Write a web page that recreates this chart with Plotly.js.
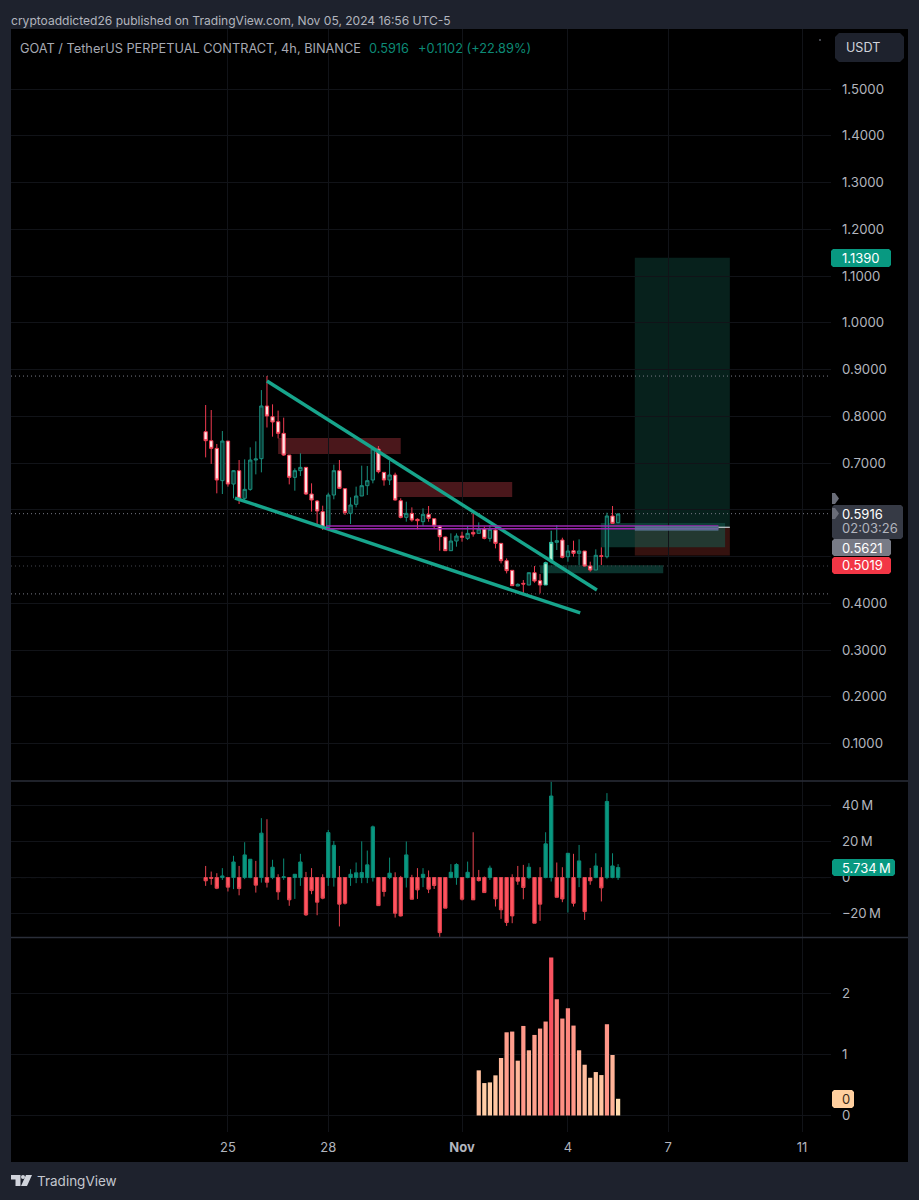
<!DOCTYPE html>
<html>
<head>
<meta charset="utf-8">
<script src="https://cdn.plot.ly/plotly-3.0.1.min.js"></script>
<style>html,body{margin:0;padding:0;background:#1e222d;}#chart{width:919px;height:1200px;}</style>
</head>
<body>
<div id="chart"></div>
<script>
// ---- price candles, 4h bars
const priceOpen = [.767,.7477,.7313,.6622,.747,.655,.6836,.6244,.6436,.7064,.7092,.822,.799,.7884,.7634,.717,.6693,.6836,.6907,.6337,.6187,.5959,.5624,.6315,.6836,.6451,.5923,.6116,.6294,.6515,.6636,.73,.68,.6636,.6743,.6194,.5837,.5923,.5795,.5745,.5902,.5809,.5652,.5417,.5124,.5331,.5438,.5388,.5516,.5495,.5588,.5388,.5566,.5281,.491,.4704,.4369,.4426,.439,.4654,.4483,.439,.4889,.5303,.5352,.4996,.5124,.5067,.5117,.4796,.4711,.5017,.4996,.5866,.5723];
const priceHigh = [.824,.8133,.7406,.7684,.747,.685,.7064,.7078,.7335,.7463,.856,.886,.8255,.812,.797,.717,.6886,.7207,.6907,.6565,.6208,.6087,.6365,.6964,.7064,.6458,.6265,.6494,.6943,.6936,.7335,.7363,.6807,.705,.6793,.6244,.6172,.6051,.5816,.603,.608,.5816,.5673,.5424,.5495,.5495,.553,.5652,.5959,.573,.5638,.5673,.5638,.5281,.496,.4711,.4426,.4497,.4654,.4796,.4625,.4889,.5552,.5673,.5402,.5246,.5338,.5367,.5117,.4889,.5153,.5196,.5937,.608,.5923];
const priceLow = [.712,.698,.6351,.6337,.6494,.6244,.6123,.6208,.6408,.6757,.68,.776,.7563,.7527,.715,.6543,.6408,.6722,.6315,.5959,.5695,.5567,.5581,.6223,.6458,.5887,.5695,.6051,.6294,.6315,.6565,.6779,.6515,.6529,.6194,.5816,.5745,.5745,.558,.5652,.5745,.5602,.5124,.5124,.5117,.521,.5317,.5352,.5424,.5481,.5367,.5317,.5174,.4853,.4639,.4369,.4369,.4212,.439,.444,.4212,.439,.4853,.5139,.496,.4889,.4996,.4818,.4782,.4675,.4711,.4818,.496,.5695,.5709];
const priceClose = [.7477,.7313,.6636,.747,.655,.6836,.6244,.6436,.7064,.7085,.822,.8005,.7877,.7634,.717,.6693,.6836,.6907,.6337,.6208,.5973,.5624,.6315,.6836,.6458,.5937,.6101,.6294,.6515,.6622,.73,.6814,.6636,.6743,.6208,.5837,.5923,.578,.5766,.5902,.5816,.5652,.5424,.5124,.5331,.5438,.541,.5495,.5481,.5588,.5388,.5581,.5281,.491,.4697,.4376,.4404,.4411,.4654,.4475,.439,.4868,.5303,.5338,.4982,.5117,.5067,.5117,.4796,.4711,.5025,.5003,.5866,.5709,.5909];
const highlightedBars = [61,62];

// ---- volume delta pane, millions
const deltaHigh = [6.4,3.3,2.4,5.2,0,12,6.4,19.5,10.1,9.2,32.8,32.2,9.8,1.8,10.5,0,1.8,13.1,3.1,5.2,0,1.8,26.3,20.2,6.4,0,4.6,8.3,20,14.9,28.7,0,0,11,2.9,.9,19.9,1.5,5.2,5.2,3.9,0,0,0,7.4,7.9,0,8.8,25,4.2,.6,6.6,0,0,0,1.8,6.4,7,7.9,0,5.7,25,53,8.3,5.7,13.4,13.1,18,0,5.3,13.4,5.7,46.6,13.4,7.4];
const deltaClose = [-1.8,-.4,-5.9,.9,-5.3,8.6,-6.1,12.5,10.1,-4.2,24.5,-2.6,5.7,-7.9,.4,-12.3,1.8,8.6,-20.6,-7.2,-13.6,-11.4,24.8,17.8,-14.7,-14.2,1.8,2.6,2.8,7,28,-15.5,-7.7,2.4,-19.7,-21.2,12.5,-12,-6.8,1.8,-6.4,-4.4,-30.4,-16.9,2.9,7.2,-12,2.9,-12.3,-1.7,-8.3,5.2,-11.8,-17.8,-24.8,-21.2,-2,-5.5,5.7,-25.2,-14.7,18.6,45,-10.9,-11.8,13.4,-14.2,9.2,-18.8,-1.8,6.4,-5.7,42,6.4,5.5];
const deltaLow = [-4.6,-4,-6.4,-1.3,-7.7,-6.4,-9.8,-.9,-.4,-8.3,-2.8,-5.5,-.9,-12.3,-1.3,-15.6,-11.8,-4.6,-21.2,-9.2,-20.8,-12,-4.6,-5,-27,-14.9,-4.6,-3.1,-3.1,-3.1,-2.2,-15.5,-10.5,-.9,-22.1,-21.5,-5.5,-12,-11.8,-5.3,-8.6,-6.3,-32.9,-16.9,-.4,-4,-12.7,-.4,-12.3,-2.2,-8.3,-1.3,-16,-22.8,-26.7,-25.2,-4,-12,-.9,-25.2,-23.9,-.4,-2.2,-10.9,-13.6,-19.3,-16,-5.3,-23.4,-4,-.4,-13.2,-.9,-.4,-1.3];

// ---- histogram pane, last 26 bars
const histValues = [.738,.53,.541,.656,.94,1.36,1.372,.896,1.464,1.066,1.317,1.421,1.536,2.585,1.9,1.585,1.754,1.47,1.066,.83,.617,.71,.661,1.492,.989,.273];
const histFirstBar = 49;

// ---- axes
const timeTickBars = [4,22,46,65,83,107];
const timeTickLabels = ['25','28','<b>Nov</b>','4','7','11'];
const priceTicks = [.1,.2,.3,.4,.5,.6,.7,.8,.9,1,1.1,1.2,1.3,1.4,1.5];
const priceTickLabels = ['0.1000','0.2000','0.3000','0.4000','','','0.7000','0.8000','0.9000','1.0000','1.1000','1.2000','1.3000','1.4000','1.5000'];
const deltaTicks = [-20,0,20,40];
const deltaTickLabels = ['\u221220\u2009M','0','20\u2009M','40\u2009M'];
const histTicks = [0,1,2];
const histTickLabels = ['0','1','2'];

// ---- drawings
const trendUpperBars = [11,70.2];
const trendUpperPrices = [.8754,.4283];
const trendLowerBars = [5.26,67.2];
const trendLowerPrices = [.6251,.3792];

const barIndex = priceOpen.map((_, i) => i);
const W = 919, H = 1200;
const X = p => p / W, Y = p => 1 - p / H;
const FONT = 'Inter, "Liberation Sans", sans-serif';
const GRID = '#111318';
const TEAL = '#089981';

function rrect(x0, y0, x1, y1, r, fill) {
  const p = (x, y) => X(x) + ',' + Y(y);
  const d = 'M' + p(x0 + r, y0) + ' L' + p(x1 - r, y0) + ' L' + p(x1, y0 + r) + ' L' + p(x1, y1 - r) + ' L' + p(x1 - r, y1) +
    ' L' + p(x0 + r, y1) + ' L' + p(x0, y1 - r) + ' L' + p(x0, y0 + r) + ' Z';
  return {type: 'path', xref: 'paper', yref: 'paper', path: d, fillcolor: fill, line: {width: 0}, layer: 'above'};
}
function poly(points, fill) {
  const d = 'M' + points.map(q => X(q[0]) + ',' + Y(q[1])).join(' L') + ' Z';
  return {type: 'path', xref: 'paper', yref: 'paper', path: d, fillcolor: fill, line: {width: 0}, layer: 'above'};
}
function label(x, y, text, color, size, anchor) {
  return {xref: 'paper', yref: 'paper', x: X(x), y: Y(y), text: text, showarrow: false, xanchor: anchor || 'left', yanchor: 'middle',
    borderpad: 0, font: {family: FONT, size: size || 13, color: color}};
}
function dataBox(x0, x1, y0, y1, fill, layer) {
  return {type: 'rect', xref: 'x', yref: 'y', x0: x0, x1: x1, y0: y0, y1: y1, fillcolor: fill, line: {width: 0}, layer: layer || 'below'};
}
function hline(yval, x0, x1, color, width, dash, layer) {
  return {type: 'line', xref: 'x', yref: 'y', x0: x0, x1: x1, y0: yval, y1: yval, line: {color: color, width: width, dash: dash}, layer: layer || 'below'};
}

const xLo = -34.925, xHi = 112.2;
const plain = priceOpen.map((_, i) => !highlightedBars.includes(i));
const pick = (arr, mask) => arr.map((v, i) => mask[i] ? v : null);
const light = priceOpen.map((_, i) => highlightedBars.includes(i));

const traces = [
  {type: 'candlestick', x: barIndex, open: pick(priceOpen, plain), high: pick(priceHigh, plain), low: pick(priceLow, plain), close: pick(priceClose, plain),
   xaxis: 'x', yaxis: 'y', hoverinfo: 'skip', showlegend: false,
   increasing: {line: {color: '#1a8f7e', width: 1}, fillcolor: '#0a3a34'},
   decreasing: {line: {color: '#ef3a50', width: 1}, fillcolor: '#ffe3e3'}},
  {type: 'candlestick', x: barIndex, open: pick(priceOpen, light), high: pick(priceHigh, light), low: pick(priceLow, light), close: pick(priceClose, light),
   xaxis: 'x', yaxis: 'y', hoverinfo: 'skip', showlegend: false,
   increasing: {line: {color: '#25b79d', width: 1}, fillcolor: '#b5f0d2'},
   decreasing: {line: {color: '#ef3a50', width: 1}, fillcolor: '#ffe3e3'}},
  {type: 'scatter', mode: 'lines', x: trendUpperBars, y: trendUpperPrices, xaxis: 'x', yaxis: 'y', hoverinfo: 'skip', showlegend: false,
   line: {color: '#17a58c', width: 3.4}},
  {type: 'scatter', mode: 'lines', x: trendLowerBars, y: trendLowerPrices, xaxis: 'x', yaxis: 'y', hoverinfo: 'skip', showlegend: false,
   line: {color: '#17a58c', width: 3.4}},
  {type: 'candlestick', x: barIndex, open: barIndex.map(() => 0), high: deltaHigh, low: deltaLow, close: deltaClose,
   xaxis: 'x', yaxis: 'y2', hoverinfo: 'skip', showlegend: false,
   increasing: {line: {color: '#0b8a76', width: 1}, fillcolor: TEAL},
   decreasing: {line: {color: '#e6434f', width: 1}, fillcolor: '#ff5560'}},
  {type: 'bar', x: histValues.map((_, i) => histFirstBar + i), y: histValues, xaxis: 'x', yaxis: 'y3', hoverinfo: 'skip', showlegend: false, width: 0.76,
   marker: {color: histValues, cmin: 0.27, cmax: 2.585, colorscale: [[0, '#ffdcae'], [0.5, '#ff9a8a'], [1, '#f7525f']], line: {width: 0}}}
];

const shapes = [
  // black chart panel
  {type: 'rect', xref: 'paper', yref: 'paper', x0: X(11), x1: X(908), y0: Y(29), y1: Y(1162), fillcolor: '#000', line: {width: 0}, layer: 'below'},
  // zones
  dataBox(77, 94.05, .5621, 1.1390, '#07211c'),
  dataBox(77, 94.05, .5019, .5621, '#35120f'),
  dataBox(70.9, 93.2, .5197, .5716, 'rgba(20,90,78,0.55)'),
  dataBox(60, 82.1, .4640, .4812, '#0b332d'),
  dataBox(13, 35, .7193, .7535, '#4a171b'),
  dataBox(33.6, 55, .6273, .6594, '#4a171b'),
  // dotted levels
  hline(.8860, xLo, xHi, '#787b86', 1, '1px,3px'),
  hline(.5916, xLo, xHi, '#787b86', 1, '1px,3px'),
  hline(.4797, xLo, xHi, '#44474f', 1, '1px,3px'),
  hline(.4200, xLo, xHi, '#787b86', 1, '1px,3px'),
  // entry lines
  hline(.5652, 21.6, 92, '#9c27b0', 1.5, 'solid', 'above'),
  hline(.5595, 21.6, 92, '#9c27b0', 1.5, 'solid', 'above'),
  dataBox(77, 92, .5553, .5655, 'rgba(92,122,154,0.75)', 'above'),
  hline(.5625, 92, 94.05, '#c8ccd2', 1.2, 'solid', 'above'),
  // delta zero line
  {type: 'line', xref: 'x', yref: 'y2', x0: xLo, x1: xHi, y0: 0, y1: 0, line: {color: '#787b86', width: 1, dash: '5px,5px'}, layer: 'below'},
  // pane separators
  {type: 'line', xref: 'paper', yref: 'paper', x0: X(11), x1: X(908), y0: Y(781), y1: Y(781), line: {color: '#2a2e39', width: 1.5}, layer: 'above'},
  {type: 'line', xref: 'paper', yref: 'paper', x0: X(11), x1: X(908), y0: Y(937.5), y1: Y(937.5), line: {color: '#2a2e39', width: 1.5}, layer: 'above'},
  // currency button
  rrect(835, 33, 904, 62, 4, '#1e222d'),
  // price labels
  rrect(831, 249, 891, 267, 2, TEAL),
  rrect(832, 505, 903, 539, 2, '#363a45'),
  rrect(832, 539, 891, 556, 2, '#787b86'),
  rrect(832, 557, 891, 574, 2, '#f23645'),
  rrect(832, 859, 895, 876, 2, TEAL),
  rrect(832, 1090, 854, 1108, 2, '#ffcf9f'),
  // pointers next to the axis
  poly([[832, 493], [835, 493], [839, 498.5], [835, 504], [832, 504]], '#6a6d78'),
  poly([[832, 508], [835, 508], [839, 513.5], [835, 519], [832, 519]], '#6a6d78'),
  // small mark at the top
  {type: 'circle', xref: 'paper', yref: 'paper', x0: X(819), x1: X(821), y0: Y(39), y1: Y(41), fillcolor: '#5a5d66', line: {width: 0}, layer: 'above'},
  // logo
  poly([[11, 1175], [20.5, 1175], [20.5, 1186], [15.5, 1186], [15.5, 1179.5], [11, 1179.5]], '#d1d4dc'),
  {type: 'circle', xref: 'paper', yref: 'paper', x0: X(21), x1: X(25), y0: Y(1175), y1: Y(1179), fillcolor: '#d1d4dc', line: {width: 0}, layer: 'above'},
  poly([[26, 1175], [32, 1175], [27, 1186], [21, 1186]], '#d1d4dc')
];

const annotations = [
  label(10, 20, 'cryptoaddicted26 published on TradingView.com, Nov 05, 2024 16:56 UTC-5', '#b2b5be', 12.05),
  label(19, 48, 'GOAT / TetherUS PERPETUAL CONTRACT, 4h, BINANCE', '#a6a9b2', 12.75),
  label(368, 48, '0.5916', '#0d8a76', 12.75),
  label(417, 48, '+0.1102 (+22.89%)', '#0d8a76', 12.75),
  label(845, 47.5, 'USDT', '#d1d4dc', 12.6),
  label(841, 258, '1.1390', '#ffffff', 13),
  label(841, 514, '0.5916', '#ffffff', 13),
  label(841, 528, '02:03:26', '#b2b5be', 13),
  label(841, 547.5, '0.5621', '#ffffff', 13),
  label(841, 565.5, '0.5019', '#ffffff', 13),
  label(841, 867.5, '5.734\u2009M', '#ffffff', 13),
  label(841, 1099, '0', '#3a2a18', 13),
  label(36, 1180.5, 'TradingView', '#c4c7cf', 13.5)
];

function yAxis(domainTop, domainBottom, range, vals, text) {
  return {domain: [Y(domainBottom), Y(domainTop)], range: range, autorange: false, side: 'right', anchor: 'x',
    tickmode: 'array', tickvals: vals, ticktext: text, ticklen: 0, ticklabelstandoff: 10,
    tickfont: {family: FONT, size: 13.2, color: '#b2b5be'},
    showgrid: true, gridcolor: GRID, gridwidth: 1, zeroline: false, showline: false, fixedrange: true};
}

const layout = {
  width: W, height: H,
  margin: {l: 0, r: 0, t: 0, b: 0, pad: 0},
  paper_bgcolor: '#1e222d', plot_bgcolor: 'rgba(0,0,0,0)',
  showlegend: false, dragmode: false, hovermode: false,
  boxgap: 0.15,
  xaxis: {domain: [X(11), X(831)], range: [xLo, xHi], autorange: false, anchor: 'y3',
    rangeslider: {visible: false}, tickmode: 'array', tickvals: timeTickBars, ticktext: timeTickLabels,
    ticklen: 0, ticklabelstandoff: 6, tickfont: {family: FONT, size: 13, color: '#b2b5be'},
    showgrid: true, gridcolor: GRID, gridwidth: 1, zeroline: false, showline: false, fixedrange: true},
  yaxis: yAxis(29, 781, [(790.25 - 781) / 467.5, (790.25 - 29) / 467.5], priceTicks, priceTickLabels),
  yaxis2: yAxis(781, 937.5, [-33.1, 53.3], deltaTicks, deltaTickLabels),
  yaxis3: yAxis(937.5, 1132, [-0.27, 2.91], histTicks, histTickLabels),
  shapes: shapes,
  annotations: annotations
};

Plotly.newPlot('chart', traces, layout, {displayModeBar: false, staticPlot: true});
</script>
</body>
</html>
